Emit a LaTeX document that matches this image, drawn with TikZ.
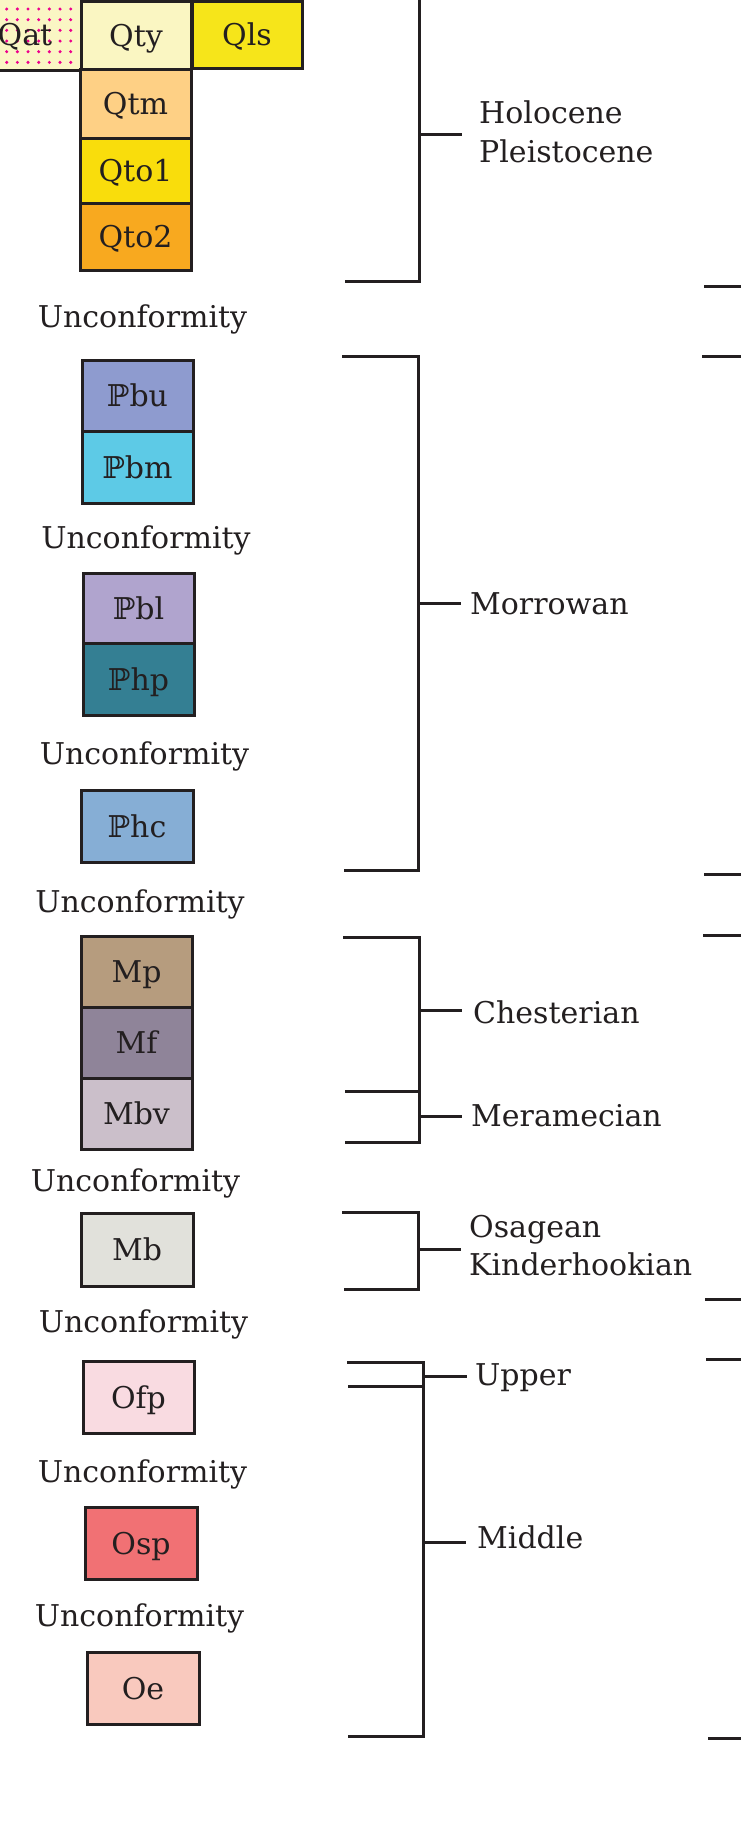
\documentclass[tikz,border=0pt]{standalone}
\usepackage{fontspec}
\setmainfont{DejaVu Serif}
\newfontfamily\dsym{DejaVu Serif}
\definecolor{ink}{HTML}{231F20}
\definecolor{cQat}{HTML}{FAF6C4}
\definecolor{cDot}{HTML}{EC008C}
\definecolor{cQty}{HTML}{FAF6C2}
\definecolor{cQls}{HTML}{F6E51A}
\definecolor{cQtm}{HTML}{FED085}
\definecolor{cQtoa}{HTML}{F9DD0C}
\definecolor{cQtob}{HTML}{F8A91F}
\definecolor{cPbu}{HTML}{8E9BCF}
\definecolor{cPbm}{HTML}{5DCAE6}
\definecolor{cPbl}{HTML}{B0A4CE}
\definecolor{cPhp}{HTML}{347F93}
\definecolor{cPhc}{HTML}{86AED5}
\definecolor{cMp}{HTML}{B69C7E}
\definecolor{cMf}{HTML}{8F8499}
\definecolor{cMbv}{HTML}{CBBFCA}
\definecolor{cMb}{HTML}{E1E1DB}
\definecolor{cOfp}{HTML}{F9DBE1}
\definecolor{cOsp}{HTML}{F17174}
\definecolor{cOe}{HTML}{F9C9BE}
\newcommand{\PP}{{\dsym ℙ}}
\newcommand{\gbox}[7]{\node[geobox, fill=#6, minimum width={#4-#2}, minimum height={#5-#3}] (#1) at ({(#2+#4)/2},{(#3+#5)/2}) {#7};}
\begin{document}
\begin{tikzpicture}[x=1pt,y=-1pt,
  geobox/.style={draw=ink, line width=3pt, inner sep=0pt, outer sep=0pt, text height=22pt, text depth=0pt, font=\fontsize{30}{36}\selectfont, text=ink},
  lbl/.style={font=\fontsize{30}{36}\selectfont, text=ink, inner sep=0pt, anchor=base west},
  unc/.style={font=\fontsize{30}{36}\selectfont, text=ink, inner sep=0pt, anchor=base},
  brk/.style={draw=ink, line width=3pt}]
\useasboundingbox (0,0) rectangle (740,1832);
\fill[white] (0,0) rectangle (740,1832);

% Quaternary boxes
\node[draw=ink, line width=3pt, fill=cQat, minimum width=130, minimum height=80, inner sep=0pt] (qatbox) at (16,30) {};
\foreach \i in {0,...,6} \foreach \j in {0,...,5}
  \fill[cDot] ({6.7+10.67*\i},{9+10.67*\j}) circle (1.7pt);
\node[font=\fontsize{30}{36}\selectfont, text=ink, inner sep=0pt, text height=22pt, text depth=0pt] (qat) at (25,34) {Qat};
\gbox{qty}{81}{1}{191}{69}{cQty}{Qty}
\gbox{qls}{192}{1}{302}{68}{cQls}{Qls}
\gbox{qtm}{80}{69}{191}{138}{cQtm}{Qtm}
\gbox{qtoa}{80}{138}{191}{203}{cQtoa}{Qto1}
\gbox{qtob}{80}{203}{191}{270}{cQtob}{Qto2}
% Pennsylvanian
\gbox{pbu}{82}{360}{193}{431}{cPbu}{\PP bu}
\gbox{pbm}{82}{431}{193}{503}{cPbm}{\PP bm}
\gbox{pbl}{83}{573}{194}{643}{cPbl}{\PP bl}
\gbox{php}{83}{643}{194}{715}{cPhp}{\PP hp}
\gbox{phc}{81}{790}{193}{862}{cPhc}{\PP hc}
% Mississippian
\gbox{mp}{81}{936}{192}{1007}{cMp}{Mp}
\gbox{mf}{81}{1007}{192}{1078}{cMf}{Mf}
\gbox{mbv}{81}{1078}{192}{1149}{cMbv}{Mbv}
\gbox{mb}{81}{1213}{193}{1286}{cMb}{Mb}
% Ordovician
\gbox{ofp}{83}{1361}{194}{1433}{cOfp}{Ofp}
\gbox{osp}{85}{1507}{197}{1579}{cOsp}{Osp}
\gbox{oe}{87}{1652}{199}{1724}{cOe}{Oe}

% Unconformities
\node[unc] (u1) at (142.5,327) {Unconformity};
\node[unc] (u2) at (146,548) {Unconformity};
\node[unc] (u3) at (144.5,764) {Unconformity};
\node[unc] (u4) at (140,912) {Unconformity};
\node[unc] (u5) at (135.5,1191) {Unconformity};
\node[unc] (u6) at (143.5,1332) {Unconformity};
\node[unc] (u7) at (142.5,1482) {Unconformity};
\node[unc] (u8) at (139.5,1626) {Unconformity};

% Holocene / Pleistocene bracket
\coordinate (hT) at (419,-5);
\coordinate (hB) at (419,281);
\coordinate (hBL) at (345,281);
\coordinate (hM) at (419,134);
\coordinate (hE) at (462,134);
\draw[brk] (hT) -- (hB) -- (hBL);
\draw[brk] (hM) -- (hE);
\node[lbl] (holo) at (479,123) {Holocene};
\node[lbl] (pleis) at (479,162) {Pleistocene};

% Morrowan
\coordinate (mTL) at (342,356);
\coordinate (mT) at (418,356);
\coordinate (mB) at (418,870);
\coordinate (mBL) at (344,870);
\coordinate (mM) at (418,603);
\coordinate (mE) at (461,603);
\draw[brk] (mTL) -- (mT) -- (mB) -- (mBL);
\draw[brk] (mM) -- (mE);
\node[lbl] (morr) at (470,614) {Morrowan};

% Chesterian / Meramecian
\coordinate (cTL) at (343,937);
\coordinate (cT) at (419,937);
\coordinate (cB) at (419,1142);
\coordinate (cBL) at (345,1142);
\coordinate (cML) at (345,1091);
\coordinate (cMR) at (419,1091);
\coordinate (cM1) at (419,1010);
\coordinate (cE1) at (462,1010);
\coordinate (cM2) at (419,1116);
\coordinate (cE2) at (462,1116);
\draw[brk] (cTL) -- (cT) -- (cB) -- (cBL);
\draw[brk] (cML) -- (cMR);
\draw[brk] (cM1) -- (cE1);
\draw[brk] (cM2) -- (cE2);
\node[lbl] (chest) at (473,1023) {Chesterian};
\node[lbl] (meram) at (471,1126) {Meramecian};

% Osagean / Kinderhookian
\coordinate (oTL) at (342,1212);
\coordinate (oT) at (418,1212);
\coordinate (oB) at (418,1289);
\coordinate (oBL) at (344,1289);
\coordinate (oM) at (418,1249);
\coordinate (oE) at (461,1249);
\draw[brk] (oTL) -- (oT) -- (oB) -- (oBL);
\draw[brk] (oM) -- (oE);
\node[lbl] (osag) at (469,1237) {Osagean};
\node[lbl] (kind) at (469,1275) {Kinderhookian};

% Upper / Middle
\coordinate (dTL) at (347,1362);
\coordinate (dT) at (423,1362);
\coordinate (dB) at (423,1736);
\coordinate (dBL) at (348,1736);
\coordinate (d2L) at (348,1386);
\coordinate (d2R) at (423,1386);
\coordinate (dM1) at (423,1376);
\coordinate (dE1) at (467,1376);
\coordinate (dM2) at (423,1542);
\coordinate (dE2) at (466,1542);
\draw[brk] (dTL) -- (dT) -- (dB) -- (dBL);
\draw[brk] (d2L) -- (d2R);
\draw[brk] (dM1) -- (dE1);
\draw[brk] (dM2) -- (dE2);
\node[lbl] (upper) at (475,1385) {Upper};
\node[lbl] (middle) at (477,1548) {Middle};

% Right-hand stubs
\foreach \yy/\xx in {286/704, 356/702, 874/704, 935/703, 1299/705, 1359/706, 1738/708}
  \draw[brk] (\xx,\yy) -- (745,\yy);
\end{tikzpicture}
\end{document}
